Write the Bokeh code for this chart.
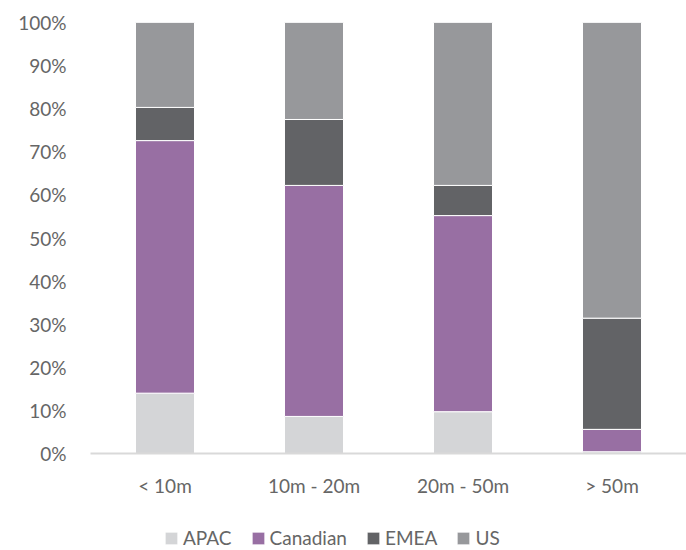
from bokeh.plotting import figure
from bokeh.layouts import column
from bokeh.models import FactorRange, Range1d, NumeralTickFormatter, FixedTicker, Legend, LegendItem
from bokeh.embed import file_html
from bokeh.resources import INLINE

categories = ["< 10m", "10m - 20m", "20m - 50m", "> 50m"]
regions = ["APAC", "Canadian", "EMEA", "US"]
apac = [0.140, 0.086, 0.097, 0.004]
canadian = [0.586, 0.536, 0.455, 0.052]
emea = [0.077, 0.153, 0.070, 0.258]
us = [0.197, 0.225, 0.378, 0.686]
colors = ["#d4d5d7", "#986fa3", "#626366", "#97989b"]

FONT = "Lato"
TXT = "#666666"

data = {"cat": categories, "APAC": apac, "Canadian": canadian, "EMEA": emea, "US": us}

p = figure(width=686, height=500, x_range=FactorRange(*categories, range_padding=0),
           y_range=Range1d(0, 1), output_backend="svg", toolbar_location=None,
           min_border_left=90, min_border_right=0, min_border_top=22, min_border_bottom=47)

rs = p.vbar_stack(regions, x="cat", width=0.396, color=colors, line_color="white",
                  line_width=1, source=data)

p.xgrid.visible = False
p.ygrid.visible = False
p.outline_line_color = None

p.yaxis.ticker = FixedTicker(ticks=[i / 10 for i in range(11)])
p.yaxis.formatter = NumeralTickFormatter(format="0%")
p.yaxis.axis_line_color = None
p.yaxis.major_tick_line_color = None
p.yaxis.minor_tick_line_color = None
p.yaxis.major_tick_out = 0
p.yaxis.major_label_standoff = 24
p.yaxis.major_label_text_font = FONT
p.yaxis.major_label_text_font_size = "19px"
p.yaxis.major_label_text_color = TXT

p.xaxis.axis_line_color = "#d9d9d9"
p.xaxis.axis_line_width = 2
p.xaxis.major_tick_line_color = None
p.xaxis.minor_tick_line_color = None
p.xaxis.major_tick_out = 0
p.xaxis.major_label_standoff = 20
p.xaxis.major_label_text_font = FONT
p.xaxis.major_label_text_font_size = "19px"
p.xaxis.major_label_text_color = TXT

# legend strip below the chart (same stacked bars, drawn out of view, only for legend swatches)
p2 = figure(width=686, height=50, x_range=FactorRange(*categories, range_padding=0),
            y_range=Range1d(5, 6), output_backend="svg", toolbar_location=None,
            x_axis_type=None, y_axis_type=None, min_border=0)
p2.xgrid.visible = False
p2.ygrid.visible = False
p2.outline_line_color = None
rs2 = p2.vbar_stack(regions, x="cat", width=0.396, color=colors, line_color="white",
                    line_width=1, source=data)

items = [LegendItem(label=r, renderers=[rs2[i]]) for i, r in enumerate(regions)]
legend = Legend(items=items, location=(73, 1), orientation="horizontal", padding=0, margin=0,
                border_line_alpha=0, background_fill_alpha=0, glyph_width=16, glyph_height=16,
                label_standoff=4, spacing=18, label_text_font=FONT, label_text_font_size="19px",
                label_text_color=TXT, label_height=20)
p2.add_layout(legend, "center")

layout = column(p, p2, spacing=0)
open("out.html", "w").write(file_html(layout, INLINE))
